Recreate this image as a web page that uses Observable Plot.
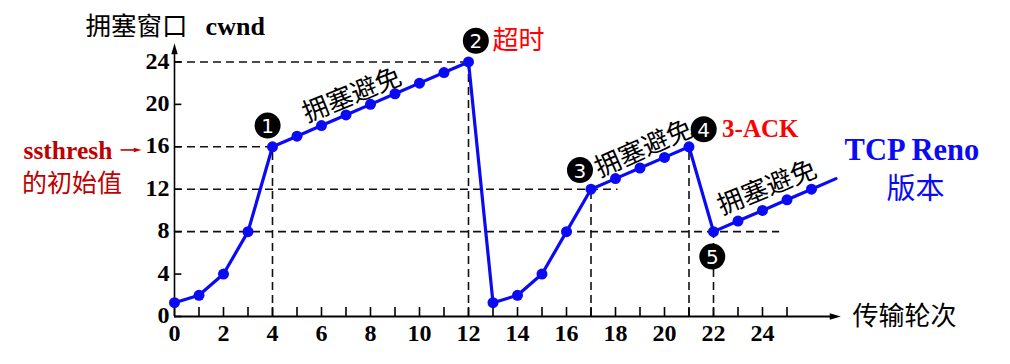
<!DOCTYPE html>
<html>
<head>
<meta charset="utf-8">
<script src="https://cdn.jsdelivr.net/npm/d3@7"></script>
<script src="https://cdn.jsdelivr.net/npm/@observablehq/plot@0.6"></script>
<style>
  html, body { margin: 0; padding: 0; background: #fff; }
  svg { display: block; overflow: visible; }
</style>
</head>
<body>
<script>
// ---- data ----
const rounds = [0,1,2,3,4,5,6,7,8,9,10,11,12,13,14,15,16,17,18,19,20,21,22,23,24,25,26];
const cwnd   = [1.3,2,4,8,16,17,18,19,20,21,22,23,24,1.3,2,4,8,12,13,14,15,16,8,9,10,11,12];
const tailRound = 27;   // line continues past last dot
const tailCwnd = 13;

const xTickLabels = [0,2,4,6,8,10,12,14,16,18,20,22,24];
const xTickMarks  = [0,1,2,3,4,5,6,7,8,9,10,11,12,13,14,15,16,17,18,19,20,21,22,23,24,25];
const yTickLabels = [0,4,8,12,16,20,24];

// dashed guide lines (value, extent)
const hGuideY  = [24, 16, 12, 8];
const hGuideTo = [12, 4, 18.1, 24.7];
const vGuideX  = [4, 12, 17, 21, 22];
const vGuideTo = [16, 24, 12, 16, 8];

// event markers
const markerLabels = ["1","2","3","4","5"];
const markerX = [3.8, 12.3, 16.55, 21.6, 21.95];
const markerY = [18, 26, 13.8, 17.65, 5.65];

const phaseText = ["拥塞避免","拥塞避免","拥塞避免"];
const phaseX = [7.25, 19.16, 24.19];
const phaseY = [20.85, 15.82, 12.14];
const phaseAngle = [-22, -24, -22];

// ---- build tables ----
const pts = rounds.map((r, i) => ({x: r, y: cwnd[i]}));
const linePts = [...pts, {x: tailRound, y: tailCwnd}];
const hGuides = hGuideY.map((y, i) => ({y, x1: 0, x2: hGuideTo[i]}));
const vGuides = vGuideX.map((x, i) => ({x, y1: 0, y2: vGuideTo[i]}));
const markers = markerLabels.map((t, i) => ({t, x: markerX[i], y: markerY[i]}));
const phases = phaseText.map((t, i) => ({t, x: phaseX[i], y: phaseY[i], a: phaseAngle[i]}));

const BLUE = "#0a0af5";
const SERIF = "'Liberation Serif', 'Times New Roman', serif";
const CJK = "'Noto Sans CJK SC', sans-serif";

// filled arrowhead symbol (tip up)
const arrowHead = {
  draw(ctx, size) {
    const s = Math.sqrt(size / Math.PI) / 5;
    ctx.moveTo(0, -6 * s);
    ctx.lineTo(3.2 * s, 5 * s);
    ctx.lineTo(-3.2 * s, 5 * s);
    ctx.closePath();
  }
};

const chart = Plot.plot({
  width: 1010,
  height: 364,
  marginLeft: 174,
  marginRight: 101,
  marginTop: 19,
  marginBottom: 48,
  x: {domain: [0, 30], axis: null},
  y: {domain: [0, 28], axis: null},
  style: {background: "#fff", overflow: "visible"},
  marks: [
    // dashed guides
    Plot.ruleY(hGuides, {y: "y", x1: "x1", x2: "x2", stroke: "#111", strokeWidth: 1.6, strokeDasharray: "8,5"}),
    Plot.ruleX(vGuides, {x: "x", y1: "y1", y2: "y2", stroke: "#111", strokeWidth: 1.6, strokeDasharray: "8,5"}),
    // axes
    Plot.ruleX([0], {y1: 0, y2: 25.2, stroke: "#000", strokeWidth: 1.6}),
    Plot.dot([0], {x: 0, y: 25.2, symbol: arrowHead, r: 5, fill: "#000", stroke: null}),
    Plot.ruleY([0], {x1: 0, x2: 26.95, stroke: "#000", strokeWidth: 2}),
    Plot.dot([0], {x: 26.95, y: 0, symbol: arrowHead, r: 5, rotate: 90, fill: "#000", stroke: null}),
    Plot.ruleY(yTickLabels, {y: d => d, x1: 0, x2: 0.3, stroke: "#000", strokeWidth: 1.6}),
    Plot.ruleX(xTickMarks, {x: d => d, y1: 0, y2: 0.85, stroke: "#000", strokeWidth: 1.6}),
    Plot.text(xTickLabels, {x: d => d, y: 0, dy: 17, text: d => String(d), fontSize: 24, fontWeight: "bold", fontFamily: SERIF, fill: "#000"}),
    Plot.text(yTickLabels, {x: 0, y: d => d, dx: -5, dy: -1, text: d => String(d), textAnchor: "end", fontSize: 24, fontWeight: "bold", fontFamily: SERIF, fill: "#000"}),
    // axis titles
    Plot.text(["拥塞窗口"], {x: -3.63, y: 27.35, text: d => d, textAnchor: "start", fontSize: 25.5, fontFamily: CJK, fill: "#000"}),
    Plot.text(["cwnd"], {x: 1.27, y: 27.35, text: d => d, textAnchor: "start", fontSize: 26, fontWeight: "bold", fontFamily: SERIF, fill: "#000"}),
    Plot.text(["传输轮次"], {x: 27.67, y: 0, text: d => d, textAnchor: "start", fontSize: 26, fontFamily: CJK, fill: "#000"}),
    // cwnd line
    Plot.line(linePts, {x: "x", y: "y", stroke: BLUE, strokeWidth: 3.2, strokeLinejoin: "round", strokeLinecap: "round"}),
    Plot.dot(pts, {x: "x", y: "y", r: 5.5, fill: BLUE, stroke: null}),
    // markers
    Plot.dot(markers, {x: "x", y: "y", r: 13, fill: "#000", stroke: null}),
    Plot.text(markers, {x: "x", y: "y", text: "t", fill: "#fff", fontSize: 20, fontFamily: "'DejaVu Sans', sans-serif", dy: 1}),
    // phase labels
    Plot.text(phases, {x: "x", y: "y", text: "t", rotate: d => d.a, fontSize: 26, fontFamily: CJK, fill: "#000"}),
    // event labels
    Plot.text(["超时"], {x: 12.98, y: 26, text: d => d, textAnchor: "start", fontSize: 26, fontFamily: CJK, fill: "#ff0000"}),
    Plot.text(["3-ACK"], {x: 22.35, y: 17.65, text: d => d, textAnchor: "start", fontSize: 25, fontWeight: "bold", fontFamily: SERIF, fill: "#ff0000"}),
    Plot.text(["TCP Reno"], {x: 30.1, y: 15.66, text: d => d, fontSize: 30.5, fontWeight: "bold", fontFamily: SERIF, fill: BLUE}),
    Plot.text(["版本"], {x: 30.24, y: 11.98, text: d => d, fontSize: 29, fontFamily: CJK, fill: BLUE}),
    // ssthresh annotation
    Plot.text(["ssthresh"], {x: -4.35, y: 15.6, text: d => d, fontSize: 25.5, fontWeight: "bold", fontFamily: SERIF, fill: "#c00000"}),
    Plot.text(["的初始值"], {x: -4.18, y: 12.45, text: d => d, fontSize: 25, fontFamily: CJK, fill: "#c00000"}),
    Plot.ruleY([15.7], {y: d => d, x1: -2.18, x2: -1.55, stroke: "#c00000", strokeWidth: 1.6}),
    Plot.dot([0], {x: -1.52, y: 15.7, symbol: arrowHead, r: 3.5, rotate: 90, fill: "#c00000", stroke: null})
  ]
});
document.body.appendChild(chart);
</script>
</body>
</html>
